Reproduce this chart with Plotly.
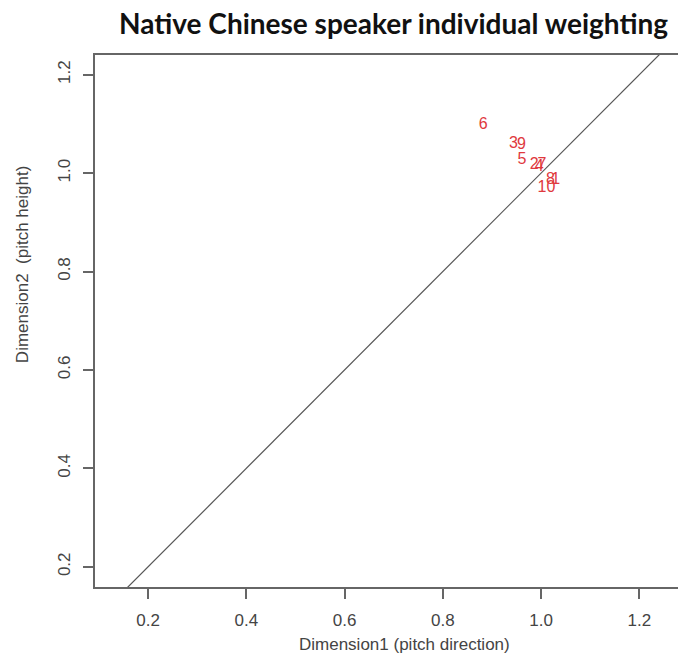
import plotly.graph_objects as go

labels = ["1", "2", "3", "4", "5", "6", "7", "8", "9", "10"]
dim1 = [1.030, 0.986, 0.944, 0.996, 0.961, 0.882, 1.002, 1.019, 0.960, 1.011]
dim2 = [0.985, 1.016, 1.060, 1.012, 1.026, 1.097, 1.016, 0.985, 1.058, 0.970]
ref_line = [0.0, 1.5]

x_ticks = [0.2, 0.4, 0.6, 0.8, 1.0, 1.2]
y_ticks = [0.2, 0.4, 0.6, 0.8, 1.0, 1.2]

fig = go.Figure()
fig.add_trace(go.Scatter(x=ref_line, y=ref_line, mode="lines",
                         line=dict(color="#555555", width=1.2), hoverinfo="skip",
                         showlegend=False))
fig.add_trace(go.Scatter(x=dim1, y=dim2, mode="text", text=labels,
                         textfont=dict(family="Liberation Sans, Arial", size=16, color="#e0393e"),
                         textposition="middle center", showlegend=False))

axis_font = dict(family="Liberation Sans, Arial", size=17, color="#444444")
fig.update_layout(
    width=678, height=650,
    margin=dict(l=87, r=0, t=47, b=71),
    paper_bgcolor="white", plot_bgcolor="white",
    title=dict(text="<b>Native Chinese speaker individual weighting</b>",
               font=dict(family="Lato, Open Sans", size=28, color="#111111"),
               xref="container", x=0.5686, xanchor="center", y=0.975, yanchor="middle"),
    xaxis=dict(range=[0.092, 1.295], tickvals=x_ticks, ticktext=[f"{v:.1f}" for v in x_ticks],
               showgrid=False, zeroline=False, showline=True, linecolor="#666666", linewidth=2,
               mirror=True, ticks="outside", ticklen=10, tickwidth=2, tickcolor="#666666",
               tickfont=axis_font, ticklabelstandoff=7),
    yaxis=dict(range=[0.159, 1.240], tickvals=y_ticks, ticktext=[f"{v:.1f}" for v in y_ticks],
               showgrid=False, zeroline=False, showline=True, linecolor="#666666", linewidth=2,
               mirror=False, ticks="outside", ticklen=10, tickwidth=2, tickcolor="#666666",
               tickfont=axis_font, tickangle=-90, ticklabelstandoff=6),
    annotations=[
        dict(text="Dimension1 (pitch direction)", xref="paper", yref="paper",
             x=0.523, y=-0.109, xanchor="center", yanchor="middle", showarrow=False,
             font=axis_font),
        dict(text="Dimension2  (pitch height)", xref="paper", yref="paper",
             x=-0.1235, y=0.605, xanchor="center", yanchor="middle", showarrow=False,
             textangle=-90, font=axis_font),
    ],
)

fig.write_html("out.html")
